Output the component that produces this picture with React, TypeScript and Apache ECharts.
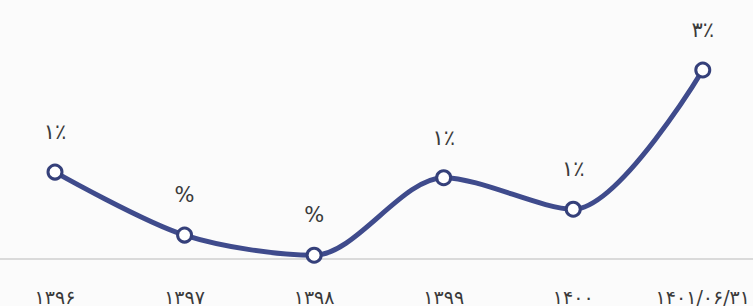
import React, { useEffect, useRef } from "react";
import * as echarts from "echarts";

const categories = ["۱۳۹۶", "۱۳۹۷", "۱۳۹۸", "۱۳۹۹", "۱۴۰۰", "۱۴۰۱/۰۶/۳۱"];
const values = [1.38, 0.38, 0.06, 1.29, 0.79, 3.0];
const pointLabels = ["۱٪", "%", "%", "۱٪", "۱٪", "۳٪"];

export default function App() {
  const ref = useRef<HTMLDivElement>(null);
  useEffect(() => {
    if (!ref.current) return;
    const chart = echarts.init(ref.current, null, { renderer: "svg" });
    chart.setOption({
      animation: false,
      backgroundColor: "#fbfbfb",
      grid: { left: 55, right: 48, top: 7, bottom: 47 },
      xAxis: {
        type: "category",
        data: categories,
        boundaryGap: false,
        axisLine: { show: false },
        axisTick: { show: false },
        axisLabel: {
          color: "#3a3a3a",
          fontSize: 19,
          margin: 28,
          fontFamily: "DejaVu Sans, sans-serif",
          interval: 0,
        },
      },
      yAxis: {
        type: "value",
        min: 0,
        max: 4,
        show: false,
        splitLine: { show: false },
      },
      series: [
        {
          type: "line",
          data: values,
          smooth: 0.3,
          symbol: "circle",
          symbolSize: 14,
          z: 3,
          lineStyle: { color: "#3f4b8c", width: 5 },
          itemStyle: { color: "#ffffff", borderColor: "#35407a", borderWidth: 3 },
          label: {
            show: true,
            position: "top",
            distance: 21,
            color: "#3a3a3a",
            fontSize: 21,
            fontFamily: "DejaVu Sans, sans-serif",
            formatter: (p: any) => pointLabels[p.dataIndex],
          },
        },
      ],
    });
    const y0 = chart.convertToPixel({ yAxisIndex: 0 }, 0) as number;
    chart.setOption({
      graphic: [
        {
          type: "line",
          z: 1,
          shape: { x1: 0, y1: y0, x2: 753, y2: y0 },
          style: { stroke: "#cfcfcf", lineWidth: 1.5 },
        },
      ],
    });
    return () => chart.dispose();
  }, []);
  return (
    <div
      ref={ref}
      style={{ position: "absolute", left: 0, top: 0, width: 753, height: 306 }}
    />
  );
}
